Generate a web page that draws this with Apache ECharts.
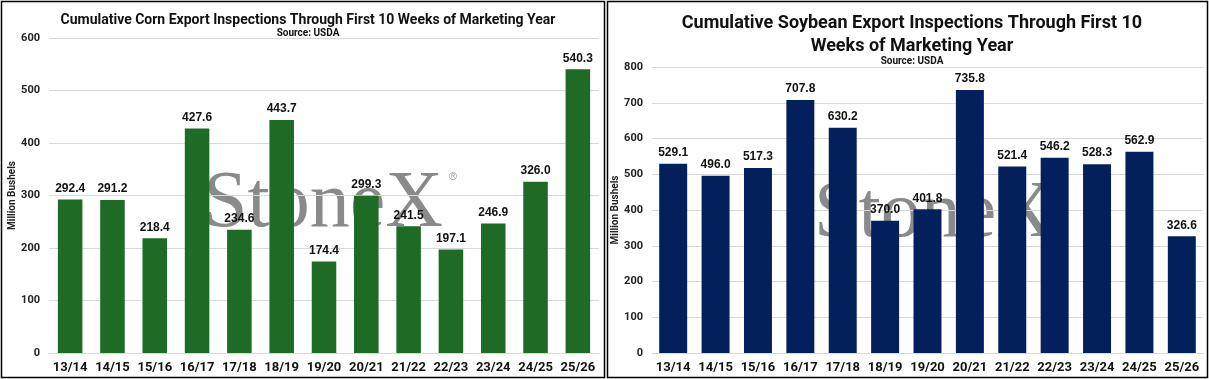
<!DOCTYPE html>
<html><head><meta charset="utf-8">
<script src="https://cdn.jsdelivr.net/npm/echarts@6/dist/echarts.min.js"></script>
<style>html,body{margin:0;padding:0;background:#fff}#c{width:1209px;height:379px}</style>
</head><body><div id="c"></div>
<script>
const categories = ['13/14','14/15','15/16','16/17','17/18','18/19','19/20','20/21','21/22','22/23','23/24','24/25','25/26'];
const cornValues = [292.4,291.2,218.4,427.6,234.6,443.7,174.4,299.3,241.5,197.1,246.9,326.0,540.3];
const soyValues = [529.1,496.0,517.3,707.8,630.2,370.0,401.8,735.8,521.4,546.2,528.3,562.9,326.6];
const cornTitle = 'Cumulative Corn Export Inspections Through First 10 Weeks of Marketing Year';
const soyTitle = 'Cumulative Soybean Export Inspections Through First 10\nWeeks of Marketing Year';
const sourceText = 'Source: USDA';
const yName = 'Million Bushels';

const narrow = '"Liberation Sans Narrow","Arial Narrow","Roboto",sans-serif';
const chart = echarts.init(document.getElementById('c'));

function yAxis(gi, max, interval, nameGap){
  return {type:'value', gridIndex:gi, min:0, max:max, interval:interval,
    name:yName, nameLocation:'middle', nameGap:nameGap, nameRotate:90,
    nameTextStyle:{fontFamily:narrow, fontWeight:'bold', fontSize:10, color:'#222'},
    axisLabel:{fontFamily:narrow, fontWeight:'bold', fontSize:11, color:'#222', margin:9},
    axisLine:{show:false}, axisTick:{show:false},
    splitLine:{lineStyle:{color:'#d9d9d9', width:1}}};
}
function xAxis(gi){
  return {type:'category', gridIndex:gi, data:categories,
    axisLine:{lineStyle:{color:'#d9d9d9'}}, axisTick:{show:false},
    axisLabel:{fontFamily:narrow, fontWeight:'bold', fontSize:13, color:'#111', margin:8, interval:0}};
}
const labelStyle = {show:true, position:'top', distance:5, fontFamily:'"Liberation Sans",Arial,sans-serif', fontWeight:'bold', fontSize:12, color:'#111', formatter:p=>p.value.toFixed(1)};

chart.setOption({
  animation:false,
  title:[
    {text:cornTitle, left:303, top:8, textAlign:'center', textStyle:{fontFamily:narrow, fontWeight:'bold', fontSize:14, color:'#111'}},
    {text:sourceText, left:303, top:23, textAlign:'center', textStyle:{fontFamily:narrow, fontWeight:'bold', fontSize:10, color:'#111'}},
    {text:soyTitle, left:907, top:7, textAlign:'center', textStyle:{fontFamily:narrow, fontWeight:'bold', fontSize:18, lineHeight:23, color:'#111'}},
    {text:sourceText, left:907, top:51, textAlign:'center', textStyle:{fontFamily:narrow, fontWeight:'bold', fontSize:10, color:'#111'}}
  ],
  graphic:[
    {type:'rect', shape:{x:1.5, y:1.5, width:603, height:376}, style:{fill:'none', stroke:'#000', lineWidth:1.5}, z:0},
    {type:'rect', shape:{x:607.5, y:1.5, width:600, height:376}, style:{fill:'none', stroke:'#000', lineWidth:1.5}, z:0},
    {type:'text', left:203, top:165, z:0, style:{text:'StoneX', font:'80px "Liberation Serif","Times New Roman",serif', fill:'#8a8a8a'}},
    {type:'text', left:449, top:171, z:0, style:{text:'®', font:'11px "Liberation Sans",Arial,sans-serif', fill:'#999'}},
    {type:'text', left:814, top:175, z:0, style:{text:'StoneX', font:'80px "Liberation Serif","Times New Roman",serif', fill:'#8a8a8a'}}
  ],
  grid:[
    {left:49, right:610, top:38, bottom:26},
    {left:652, right:6, top:67, bottom:26}
  ],
  xAxis:[xAxis(0), xAxis(1)],
  yAxis:[yAxis(0, 600, 100, 31), yAxis(1, 800, 100, 28)],
  series:[
    {type:'bar', xAxisIndex:0, yAxisIndex:0, data:cornValues, barCategoryGap:'42%', itemStyle:{color:'#1d6b25'}, label:labelStyle, z:2},
    {type:'bar', xAxisIndex:1, yAxisIndex:1, data:soyValues, barCategoryGap:'34%', itemStyle:{color:'#04205c'}, label:labelStyle, z:2}
  ]
});
</script></body></html>
